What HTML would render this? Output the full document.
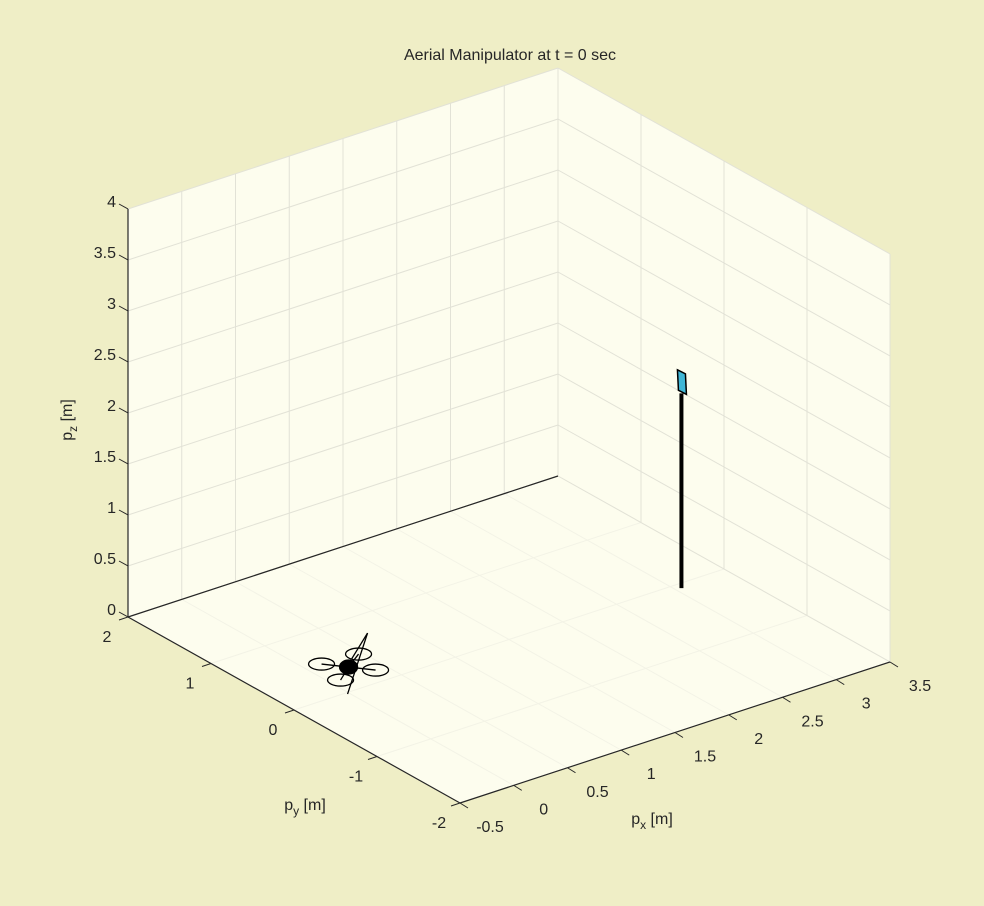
<!DOCTYPE html>
<html><head><meta charset="utf-8"><style>
html,body{margin:0;padding:0;background:#efeec6;}
svg{display:block;font-family:"Liberation Sans",sans-serif;}
</style></head><body>
<svg id="c" width="984" height="906" viewBox="0 0 984 906">
<rect width="984" height="906" fill="#efeec6"/>
<g id="g"></g>
</svg>
<script>
const xTicks=[-0.5,0,0.5,1,1.5,2,2.5,3,3.5];
const yTicks=[-2,-1,0,1,2];
const zTicks=[0,0.5,1,1.5,2,2.5,3,3.5,4];
const xTickLabels=["-0.5","0","0.5","1","1.5","2","2.5","3","3.5"];
const yTickLabels=["-2","-1","0","1","2"];
const zTickLabels=["0","0.5","1","1.5","2","2.5","3","3.5","4"];
const poleBase=[3.05,-0.07,0];
const poleTopZ=[1.89];
const payloadTopZ=[2.14];
const droneCenter=[0.27,0.34,0];

const NS="http://www.w3.org/2000/svg";
const g=document.getElementById('g');
function P(x,y,z){return [460+(x+0.5)*107.5-(y+2)*83, 803-(x+0.5)*35.25-(y+2)*46.5-z*102];}
function el(t,a,parent){const e=document.createElementNS(NS,t);for(const k in a)e.setAttribute(k,a[k]);(parent||g).appendChild(e);return e;}
function line(a,b,st,w){return el('line',{x1:a[0],y1:a[1],x2:b[0],y2:b[1],stroke:st,'stroke-width':w||1});}
const x0=-0.5,x1=3.5,y0=-2,y1=2,z1=4;
const poly=(pts,fill,name)=>{const e=el('polygon',{points:pts.map(p=>p.join(',')).join(' '),fill:fill});};
poly([P(x0,y1,0),P(x1,y1,0),P(x1,y1,z1),P(x0,y1,z1)],'#fdfdee','back-left-wall');
poly([P(x1,y0,0),P(x1,y1,0),P(x1,y1,z1),P(x1,y0,z1)],'#fdfdee','back-right-wall');
poly([P(x0,y0,0),P(x1,y0,0),P(x1,y1,0),P(x0,y1,0)],'#fdfdee','floor');
const gc='#e2e2d6';
xTicks.forEach(x=>{let l=line(P(x,y1,0),P(x,y1,z1),gc);
 l=line(P(x,y0,0),P(x,y1,0),'#f3f3e6');});
yTicks.forEach(y=>{let l=line(P(x1,y,0),P(x1,y,z1),gc);
 l=line(P(x0,y,0),P(x1,y,0),'#f3f3e6');});
zTicks.forEach(z=>{let l=line(P(x0,y1,z),P(x1,y1,z),gc);
 l=line(P(x1,y0,z),P(x1,y1,z),gc);});
[[P(x0,y1,0),P(x1,y1,0)],[P(x0,y0,0),P(x0,y1,0)],[P(x0,y0,0),P(x1,y0,0)],[P(x0,y1,0),P(x0,y1,z1)]].forEach(s=>{const l=line(s[0],s[1],'#262626',1.2);});
function txt(s,x,y,anchor,size,name){const t=el('text',{x:x,y:y,'text-anchor':anchor,'font-size':size||16,fill:'#262626'});t.textContent=s;return t;}
xTicks.forEach((x,i)=>{const p=P(x,y0,0);const l=line(p,[p[0]+8,p[1]+5],'#262626');txt(xTickLabels[i],p[0]+30,p[1]+29,'middle',16,'x-tick-label');});
yTicks.forEach((y,i)=>{const p=P(x0,y,0);const l=line(p,[p[0]-9,p[1]+3],'#262626');txt(yTickLabels[i],p[0]-21,p[1]+25,'middle',16,'y-tick-label');});
zTicks.forEach((z,i)=>{const p=P(x0,y1,z);const l=line(p,[p[0]-9,p[1]-5],'#262626');txt(zTickLabels[i],p[0]-12,p[1]-2,'end',16,'z-tick-label');});
let t=txt('',652,824,'middle',16,'x-axis-title');t.innerHTML='p<tspan font-size="12" dy="5">x</tspan><tspan dy="-5"> [m]</tspan>';
t=txt('',305,810,'middle',16,'y-axis-title');t.innerHTML='p<tspan font-size="12" dy="5">y</tspan><tspan dy="-5"> [m]</tspan>';
t=txt('',0,0,'middle',16,'z-axis-title');t.setAttribute('transform','translate(72,420) rotate(-90)');t.innerHTML='p<tspan font-size="12" dy="5">z</tspan><tspan dy="-5"> [m]</tspan>';
txt('Aerial Manipulator at t = 0 sec',510,60,'middle',16,'chart-title');
const pb=P(poleBase[0],poleBase[1],poleBase[2]),pt=P(poleBase[0],poleBase[1],poleTopZ[0]),pp=P(poleBase[0],poleBase[1],payloadTopZ[0]);
let l=line(pb,[pt[0],pt[1]-2],'#000',4);
const pay=el('polygon',{points:`${pt[0]-4},${pp[1]} ${pt[0]+4},${pp[1]+4} ${pt[0]+5},${pt[1]-1} ${pt[0]-3},${pt[1]-5}`,fill:'#3fb6d6',stroke:'#000','stroke-width':1.5});

const dc=P(droneCenter[0],droneCenter[1],droneCenter[2]);
const dg=el('g',{fill:'none',stroke:'#000','stroke-width':1.3});

[[-27,-3],[27,3],[10,-13],[-8,13]].forEach(o=>{el('line',{x1:dc[0],y1:dc[1],x2:dc[0]+o[0],y2:dc[1]+o[1]},dg);el('ellipse',{cx:dc[0]+o[0],cy:dc[1]+o[1],rx:13,ry:6},dg);});
el('line',{x1:dc[0]+19,y1:dc[1]-34,x2:dc[0]-1,y2:dc[1]+27},dg);
el('line',{x1:dc[0]+19,y1:dc[1]-34,x2:dc[0]+3,y2:dc[1]-8},dg);
el('ellipse',{cx:dc[0],cy:dc[1],rx:9,ry:7,fill:'#000'},dg);
</script>
</body></html>
